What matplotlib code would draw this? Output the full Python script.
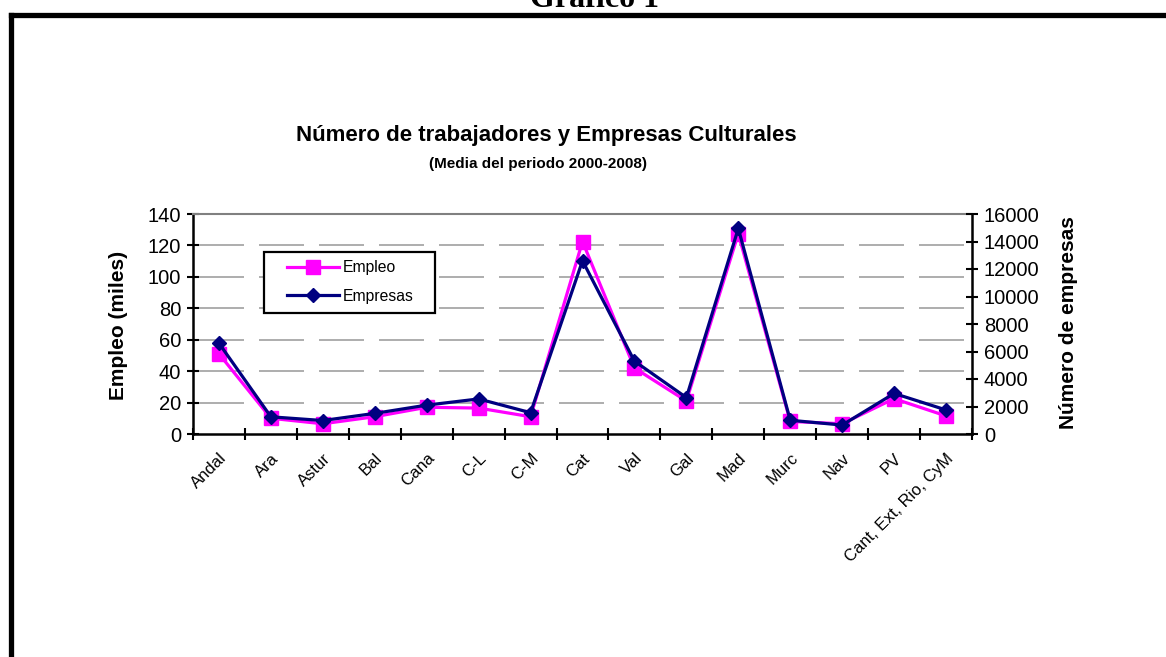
import matplotlib.pyplot as plt
from matplotlib.lines import Line2D
from matplotlib.patches import Rectangle
import numpy as np

# Data
regions = ["Andal", "Ara", "Astur", "Bal", "Cana", "C-L", "C-M", "Cat", "Val",
           "Gal", "Mad", "Murc", "Nav", "PV", "Cant, Ext, Rio, CyM"]
empleo = [51, 10, 6.5, 11, 17, 16.5, 11, 122.5, 42, 21, 127.5, 8, 6.5, 22.5, 11.5]
empresas = [6600, 1250, 980, 1500, 2100, 2550, 1550, 12600, 5300, 2650,
            14950, 1000, 650, 2950, 1750]
left_ticks = [0, 20, 40, 60, 80, 100, 120, 140]
right_ticks = [0, 2000, 4000, 6000, 8000, 10000, 12000, 14000, 16000]

plt.rcParams['font.family'] = ['Liberation Sans', 'DejaVu Sans']

W, H = 1166, 657
fig = plt.figure(figsize=(W / 100, H / 100), dpi=100)

# Plot area placement (pixels measured from reference)
x0, x1, ytop, ybot = 193, 972, 214, 434
ax1 = fig.add_axes([x0 / W, 1 - ybot / H, (x1 - x0) / W, (ybot - ytop) / H])
ax2 = ax1.twinx()

x = np.arange(len(regions))

# Empleo on the left axis
ax1.plot(x, empleo, color='#FF00FF', lw=2.3, marker='s', ms=10, mew=1,
         mec='#FF00FF', mfc='#FF00FF', label='Empleo', clip_on=False)
# Empresas on the right axis
ax2.plot(x, empresas, color='#000080', lw=2.3, marker='D', ms=7.3, mew=1,
         mec='#000080', mfc='#000080', label='Empresas', clip_on=False)

ax1.set_xlim(-0.5, len(regions) - 0.5)
ax1.set_ylim(0, 140)
ax2.set_ylim(0, 16000)
ax1.set_yticks(left_ticks)
ax2.set_yticks(right_ticks)

# category boundaries get the tick marks, labels sit at the centres
ax1.set_xticks(np.arange(-0.5, len(regions), 1.0))
ax1.set_xticklabels([])
ax1.set_xticks(x, minor=True)
ax1.set_xticklabels(regions, minor=True, rotation=45, ha='right',
                    rotation_mode='anchor', fontsize=12)
ax1.tick_params(axis='x', which='minor', length=0, pad=12)
ax1.tick_params(axis='x', which='major', direction='inout', length=9, width=1.5)

ax1.tick_params(axis='y', direction='inout', length=9, width=1.5,
                labelsize=14.5, pad=4)
ax2.tick_params(axis='y', direction='inout', length=9, width=1.5,
                labelsize=14.5, pad=4)

# dashed gray grid
for v in left_ticks[1:-1]:
    ax1.axhline(v, color='#A0A0A0', lw=1.2, ls=(32.4, (27, 9)), zorder=0.5)

for s in ['left', 'bottom']:
    ax1.spines[s].set_linewidth(1.8)
    ax1.spines[s].set_color('black')
ax1.spines['right'].set_visible(False)
ax1.spines['top'].set_color('#808080')
ax1.spines['top'].set_linewidth(1.5)
for s in ['left', 'bottom', 'top']:
    ax2.spines[s].set_visible(False)
ax2.spines['right'].set_linewidth(1.8)
ax2.spines['right'].set_color('black')
ax1.patch.set_visible(False)

# legend: frame drawn as its own box, entries placed inside it
ax2.add_patch(Rectangle((264 / W, 1 - 313 / H), (435 - 264) / W, (313 - 252) / H,
                        transform=fig.transFigure, facecolor='white',
                        edgecolor='black', lw=1.6, zorder=4, clip_on=False))
h1, l1 = ax1.get_legend_handles_labels()
h2, l2 = ax2.get_legend_handles_labels()
ax2.legend(h1 + h2, l1 + l2, loc='upper left',
           bbox_to_anchor=(287 / W, 1 - 260 / H),
           bbox_transform=fig.transFigure,
           borderaxespad=0, borderpad=0, fontsize=11.3, handlelength=3.3,
           labelspacing=0.88, frameon=False, handletextpad=0.25)

# axis titles
fig.text(118 / W, 1 - 325 / H, 'Empleo (miles)', rotation=90, fontsize=15,
         fontweight='bold', ha='center', va='center')
fig.text(1068 / W, 1 - 323 / H, 'Número de empresas', rotation=90, fontsize=15,
         fontweight='bold', ha='center', va='center')

# chart titles
fig.text(546 / W, 1 - 135 / H, 'Número de trabajadores y Empresas Culturales',
         fontsize=16, fontweight='bold', ha='center', va='center')
fig.text(538 / W, 1 - 164 / H, '(Media del periodo 2000-2008)',
         fontsize=11, fontweight='bold', ha='center', va='center')

# page heading, cut by the top edge
fig.text(594 / W, 1 - 7 / H, 'Gráfico 1', fontsize=23, fontweight='bold',
         family=['Liberation Serif', 'DejaVu Serif'], ha='center', va='baseline')

# frame around the chart
fig.add_artist(Line2D([10.5 / W, 1.01], [1 - 14.5 / H, 1 - 14.5 / H],
                      color='black', lw=3.8, solid_capstyle='projecting'))
fig.add_artist(Line2D([10.5 / W, 10.5 / W], [1 - 14.5 / H, -0.01],
                      color='black', lw=3.8, solid_capstyle='projecting'))

fig.savefig('out.png', dpi=100)
